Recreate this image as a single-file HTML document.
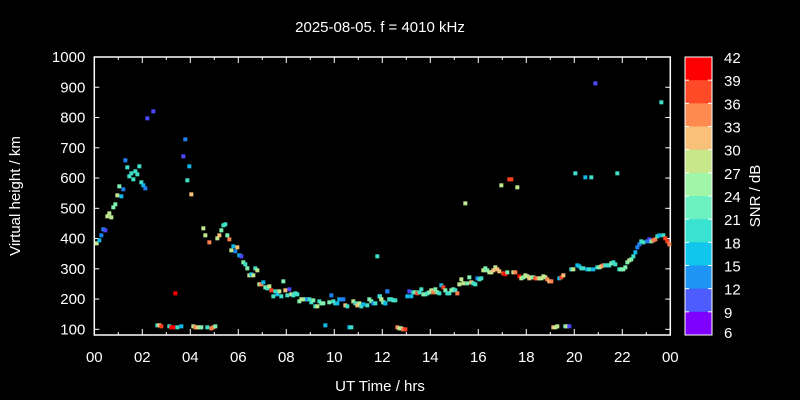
<!DOCTYPE html>
<html><head><meta charset="utf-8"><style>
html,body{margin:0;padding:0;background:#000;}
svg{display:block;font-family:"Liberation Sans",sans-serif;}
text{fill:#fff;font-size:15px;}
</style></head><body>
<svg id="s" width="800" height="400" xmlns="http://www.w3.org/2000/svg">
<rect width="800" height="400" fill="#000"/>
<text x="380" y="32" text-anchor="middle">2025-08-05. f = 4010 kHz</text>
<text x="380" y="391" text-anchor="middle">UT Time / hrs</text>
<text transform="translate(20,196) rotate(-90)" text-anchor="middle">Virtual height / km</text>
<text transform="translate(760,196) rotate(-90)" text-anchor="middle">SNR / dB</text>
<g id="g"></g>
</svg>
<script>
var s=document.getElementById('g'),NS='http://www.w3.org/2000/svg',h='';
var L=94.3,R=670.3,T=57,B=335;
function Y(v){return 57+(1000-v)*0.3026;}
h+='<rect x="'+L+'" y="'+T+'" width="'+(R-L)+'" height="'+(B-T)+'" fill="none" stroke="#fff" stroke-width="1.5"/>';
for(var i=0;i<=24;i++){var x=L+i*24,l=(i%2==0)?6:3;
h+='<line x1="'+x+'" y1="'+B+'" x2="'+x+'" y2="'+(B-l)+'" stroke="#fff"/><line x1="'+x+'" y1="'+T+'" x2="'+x+'" y2="'+(T+l)+'" stroke="#fff"/>';
if(i%2==0){var lb=(i%24<10?'0':'')+(i%24);h+='<text x="'+x+'" y="362" text-anchor="middle">'+lb+'</text>';}}
for(var v=100;v<=1000;v+=100){var y=Y(v);
h+='<line x1="'+L+'" y1="'+y+'" x2="'+(L+5)+'" y2="'+y+'" stroke="#fff"/><line x1="'+R+'" y1="'+y+'" x2="'+(R-5)+'" y2="'+y+'" stroke="#fff"/>';
h+='<text x="'+(L-9)+'" y="'+(y+5)+'" text-anchor="end">'+v+'</text>';}
var cb=['#ff0000','#ff4a28','#ff8a50','#f8c078','#c8e68a','#a0f6a6','#6cf2c0','#3ae2d2','#10c6ec','#1e94f4','#4c5cff','#8000ff'];
var ct=57,ch=(335-57)/12;
for(var i=0;i<12;i++)h+='<rect x="685" y="'+(ct+i*ch)+'" width="27" height="'+(ch+0.5)+'" fill="'+cb[i]+'"/>';
h+='<rect x="685" y="57" width="27" height="278" fill="none" stroke="#fff"/>';
for(var i=0;i<=12;i++){var y=ct+i*ch;if(i<12)h+='<text x="724" y="'+(y+6)+'">'+(42-3*i)+'</text>';
h+='<line x1="685" y1="'+y+'" x2="689" y2="'+y+'" stroke="#fff"/><line x1="712" y1="'+y+'" x2="708" y2="'+y+'" stroke="#fff"/>';}
h+='<text x="724" y="338">6</text>';
var C={P:'#8000ff',B1:'#4c48ff',B2:'#2080f0',C:'#10b8e8',T:'#40e0c8',G:'#80f0b0',Y:'#c0e890',O1:'#f8c078',O:'#ff8050',R:'#ff4020',RR:'#ff0000'};
var z1=[[20,580,'Y'],[28,571,'C'],[34,556,'B2'],[40,538,'B2'],[46,541,'B1'],[52,499,'Y'],[58,490,'Y'],[64,502,'Y'],[70,472,'G'],[76,463,'G'],[82,436,'Y'],[88,409,'G'],[94,439,'C'],[100,418,'B2'],[106,331,'B2'],[112,352,'T'],[118,379,'T'],[124,370,'T'],[130,388,'T'],[136,364,'T'],[142,373,'T'],[148,349,'T'],[154,397,'T'],[160,406,'C'],[166,415,'B2'],[172,205,'B1'],[190,184,'B1'],[286,268,'B2'],[280,319,'B1'],[298,349,'C'],[292,391,'T'],[304,433,'O1'],
[340,535,'Y'],[346,556,'Y'],[358,577,'O'],[382,565,'Y'],[388,556,'O1'],[394,541,'G'],[400,526,'T'],[406,523,'T'],[412,556,'G'],[418,568,'O'],[424,601,'Y'],[430,589,'C'],[436,604,'B2'],[442,592,'O1'],[448,616,'C'],[454,619,'B1'],[460,637,'G'],[466,643,'T'],[472,655,'G'],[478,676,'Y'],[484,673,'C'],[490,676,'Y'],[496,655,'T'],[502,661,'Y'],[508,703,'Y'],[514,703,'O'],[520,697,'C'],[526,712,'G'],[532,715,'T'],[538,709,'Y'],[544,721,'R'],[550,739,'T'],[556,724,'T'],[562,733,'C'],[568,724,'Y'],[574,739,'T'],[580,694,'G'],[586,721,'O1'],[592,736,'T'],[598,718,'B1'],[604,733,'Y'],[610,736,'T'],[616,730,'T'],[622,733,'T'],[628,754,'G'],[634,748,'Y'],[640,748,'Y'],[646,748,'G'],[652,748,'B2'],[658,748,'T'],[664,757,'T'],[670,751,'G'],[676,769,'T'],[682,769,'Y'],[688,754,'T'],[694,760,'G'],[700,760,'G'],[706,826,'C'],[718,757,'G'],[724,736,'B2'],[730,754,'T'],[736,760,'T'],[742,760,'C'],[748,748,'C'],[754,748,'B2'],[760,748,'B2'],[766,766,'O1'],[772,769,'T'],[778,832,'C'],[784,832,'T'],[790,754,'Y'],[796,760,'T'],[802,766,'O1'],[808,760,'Y'],[814,769,'T'],[820,763,'C'],[832,766,'T'],[838,748,'G'],[844,754,'G'],[850,760,'B2'],[856,760,'T'],[862,619,'T'],[868,739,'C'],[874,748,'G'],[880,757,'Y'],[886,760,'C'],[892,724,'B2'],[898,748,'T'],
[202,826,'T'],[208,826,'O1'],[214,829,'R'],[238,829,'T'],[244,832,'RR'],[250,832,'RR'],[262,832,'T'],[274,829,'C'],[256,730,'RR'],[310,829,'Y'],[316,832,'O'],[322,832,'O1'],[328,832,'Y'],[334,832,'G'],[352,832,'T'],[364,835,'O'],[370,832,'O'],[376,829,'G']];
var z2=[[0,739,'T'],[4,748,'Y'],[10,757,'G'],[16,760,'C'],[22,724,'B2'],[28,748,'T'],[34,748,'T'],[40,751,'T'],[46,751,'T'],[52,832,'O'],[58,835,'Y'],[64,835,'Y'],[70,838,'O'],[76,838,'R'],[82,739,'C'],[88,724,'B1'],[94,739,'C'],[100,727,'T'],[106,727,'G'],[112,730,'R'],[118,727,'T'],[124,718,'T'],[130,733,'G'],[136,733,'G'],[142,730,'T'],[148,727,'G'],[154,721,'Y'],[160,727,'O'],[166,718,'G'],[172,727,'G'],[178,730,'T'],[184,706,'C'],[190,712,'R'],[196,721,'G'],[202,730,'T'],[208,730,'T'],[214,721,'G'],[220,718,'G'],[226,721,'T'],[232,730,'O'],[238,703,'Y'],[244,688,'Y'],[250,700,'Y'],[256,460,'Y'],[262,700,'G'],[268,682,'G'],[274,697,'O1'],[280,700,'T'],[286,703,'T'],[292,685,'B2'],[298,688,'T'],[304,685,'T'],[310,661,'Y'],[316,655,'G'],[322,661,'G'],[328,667,'Y'],[334,667,'Y'],[340,661,'O1'],[346,652,'Y'],[352,658,'O1'],[358,664,'O1'],[364,406,'Y'],[370,670,'R'],[376,673,'RR'],[382,667,'G'],[388,388,'R'],[394,388,'R'],[400,667,'Y'],[406,667,'O'],[412,412,'Y'],[418,679,'RR'],[424,685,'Y'],[430,682,'G'],[436,676,'Y'],[442,679,'Y'],[448,685,'O1'],[454,682,'Y'],[460,682,'G'],[466,685,'R'],[472,685,'O'],[478,685,'Y'],[484,685,'Y'],[490,679,'Y'],[496,682,'Y'],[502,688,'O'],[508,694,'O1'],[514,694,'O'],[520,832,'O1'],[526,832,'Y'],[532,829,'Y'],[538,685,'C'],[544,682,'R'],[550,676,'O1'],[556,829,'G'],[562,829,'Y'],[568,829,'B1'],[574,658,'T'],[580,658,'Y'],[586,370,'T'],[592,646,'C'],[598,649,'C'],[604,655,'T'],[610,655,'T'],[616,382,'C'],[622,658,'C'],[628,658,'T'],[634,382,'T'],[640,658,'C'],[646,100,'B1'],[652,652,'T'],[658,652,'G'],[664,649,'O1'],[670,646,'O'],[676,646,'T'],[682,646,'T'],[688,646,'T'],[694,640,'G'],[700,637,'T'],[706,643,'T'],[712,370,'T'],[718,658,'T'],[724,658,'G'],[730,658,'G'],[736,652,'G'],[742,637,'G'],[748,631,'Y'],[754,628,'G'],[760,619,'T'],[766,607,'C'],[772,592,'B2'],[778,583,'B2'],[784,574,'T'],[790,577,'T'],[802,574,'B2'],[808,568,'B1'],[814,574,'G'],[820,571,'O'],[826,568,'O'],[832,559,'T'],[838,556,'C'],[844,157,'T'],[850,556,'T'],[856,565,'R'],[862,574,'R'],[868,583,'O']];
function pts(a,x0){a.forEach(function(p){var x=x0+p[0]/3,y=50+p[1]/3;h+='<rect x="'+(x-2)+'" y="'+(y-2)+'" width="4" height="4" fill="'+C[p[2]]+'"/>';});}
pts(z1,90);pts(z2,380);
s.innerHTML=h;
</script>
</body></html>
